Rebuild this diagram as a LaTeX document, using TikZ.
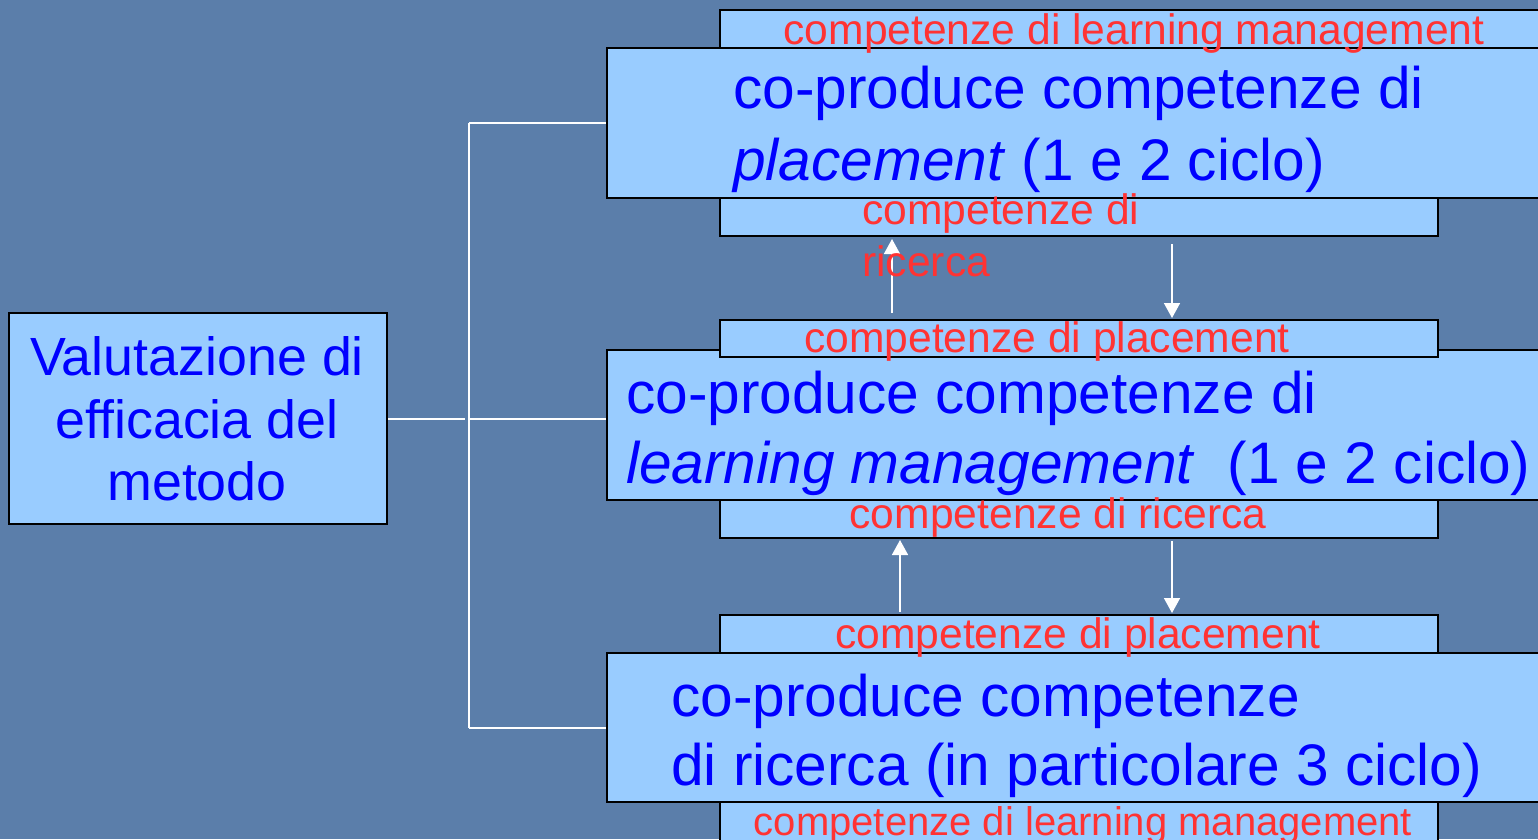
\documentclass[tikz,border=0pt]{standalone}
\usepackage{fontspec}
\setmainfont{Liberation Sans}
\usetikzlibrary{arrows.meta,calc}
\definecolor{bgblue}{HTML}{5B7EAA}
\definecolor{boxfill}{HTML}{99CCFF}
\definecolor{txtblue}{HTML}{0000FF}
\definecolor{txtred}{HTML}{FF3333}
\tikzset{
  box/.style={draw=black, line width=2pt, fill=boxfill, inner sep=0pt, anchor=north west},
  bigtxt/.style={text=txtblue, inner sep=0pt, font=\fontsize{58.6}{70}\selectfont},
  lefttxt/.style={text=txtblue, inner sep=0pt, anchor=base, font=\fontsize{53.8}{63}\selectfont},
  redtxt/.style={text=txtred, inner sep=0pt, font=\fontsize{42.6}{50}\selectfont},
  wline/.style={draw=white, line width=2pt},
  warrow/.style={draw=white, line width=1.6pt, -{Triangle[length=15pt,width=16pt]}}
}
\begin{document}
\begin{tikzpicture}[x=1pt,y=-1pt]
\useasboundingbox (0,0) rectangle (1538,839);
\clip (0,0) rectangle (1538,839);
\fill[bgblue] (0,0) rectangle (1538,839);

% left box
\node[box, minimum width=378pt, minimum height=211pt] (L) at (8,312) {};

% main boxes
\node[box, minimum width=960pt, minimum height=150pt] (A) at (606,47) {};
\node[box, minimum width=960pt, minimum height=150pt] (B) at (606,349) {};
\node[box, minimum width=960pt, minimum height=149pt] (C) at (606,652) {};

% strips
\node[box, minimum width=840pt, minimum height=38pt] (SA1) at (719,9) {};
\node[box, minimum width=718pt, minimum height=38pt] (SA2) at (719,197) {};
\node[box, minimum width=718pt, minimum height=37pt] (SB1) at (719,319) {};
\node[box, minimum width=718pt, minimum height=38pt] (SB2) at (719,499) {};
\node[box, minimum width=718pt, minimum height=38pt] (SC1) at (719,614) {};
\node[box, minimum width=718pt, minimum height=50pt] (SC2) at (719,801) {};

% connectors
\coordinate (bx) at (469,0);
\draw[wline] (L.east) -- ++(77,0);
\draw[wline] (A.west -| bx) -- (C.west -| bx);
\draw[wline] (A.west -| bx) -- (A.west);
\draw[wline] (L.east -| bx) -- (L.east -| B.west);
\draw[wline] (C.west -| bx) -- (C.west);

% arrows
\draw[warrow] ($(SB1.north west)+(173,-6)$) -- ($(SA2.south west)+(173,2)$);
\draw[warrow] ($(SA2.south west)+(453,7)$) -- ($(SB1.north west)+(453,-1)$);
\draw[warrow] ($(SC1.north west)+(181,-2)$) -- ($(SB2.south west)+(181,1)$);
\draw[warrow] ($(SB2.south west)+(453,2)$) -- ($(SC1.north west)+(453,-1)$);

% left box text
\node[lefttxt] (L1) at (197,375) {Valutazione di};
\node[lefttxt] (L2) at (197,438) {efficacia del};
\node[lefttxt] (L3) at (197,500) {metodo};

% main texts
\node[bigtxt, anchor=base west] (A1) at (733,108) {co-produce competenze di};
\node[bigtxt, anchor=base west] (A2) at (733,180) {\textit{placement} (1 e 2 ciclo)};
\node[bigtxt, anchor=base west] (B1) at (626,413) {co-produce competenze di};
\node[bigtxt, anchor=base west] (B2) at (626,483) {\textit{learning management}\ \ (1 e 2 ciclo)};
\node[bigtxt, anchor=base west] (C1) at (671,716) {co-produce competenze};
\node[bigtxt, anchor=base west] (C2) at (671,785) {di ricerca (in particolare 3 ciclo)};

% red texts
\node[redtxt, anchor=base] (RA1) at (1134,44) {competenze di learning management};
\node[redtxt, anchor=base west] (RA2) at (862,224) {competenze di};
\node[redtxt, anchor=base west] (RA3) at (862,276) {ricerca};
\node[redtxt, anchor=base] (RB1) at (1047,352) {competenze di placement};
\node[redtxt, anchor=base] (RB2) at (1058,528) {competenze di ricerca};
\node[redtxt, anchor=base] (RC1) at (1078,648) {competenze di placement};
\node[redtxt, anchor=base, font=\fontsize{40}{48}\selectfont] (RC2) at (1083,835) {competenze di learning management};
\end{tikzpicture}
\end{document}
